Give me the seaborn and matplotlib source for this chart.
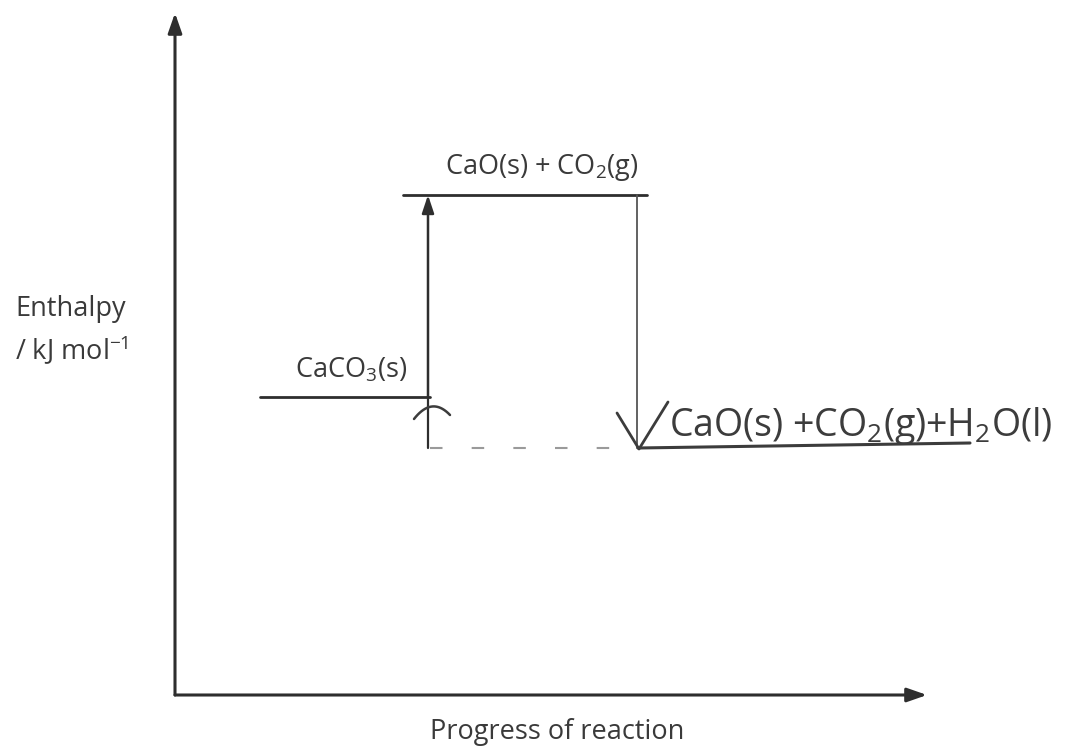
import matplotlib
matplotlib.use("Agg")
import matplotlib.pyplot as plt
import seaborn as sns
import pandas as pd
import numpy as np

# ---- data (progress units, enthalpy units, arbitrary) ----
level_names = ["CaCO$_3$(s)", "CaO(s) + CO$_2$(g)"]
level_x_start = [85, 228]
level_x_end = [255, 472]
level_enthalpy = [298, 500]

hand_x = [463, 795]
hand_enthalpy = [247, 252]
hand_label = "CaO(s) +CO$_2$(g)+H$_2$O(l)"

dash_x = [255, 465]
dash_enthalpy = [247, 247]

up_arrow_x = 253
down_arrow_x = 462

y_label = "Enthalpy\n/ kJ mol$^{-1}$"
x_label = "Progress of reaction"

sns.set_theme(style="white")
plt.rcParams['font.family'] = ['Open Sans', 'DejaVu Sans']
plt.rcParams['mathtext.fontset'] = 'custom'
plt.rcParams['mathtext.rm'] = 'Open Sans'

fig = plt.figure(figsize=(10.88, 7.47), dpi=100)
ax = fig.add_axes([0, 0, 1, 1])
ax.set_xlim(-175, 913)
ax.set_ylim(-52, 695)
ax.axis("off")

line_col = "#2e2e2e"
text_col = "#3a3a3a"
FS = 19.5

# axes arrows
ax.annotate("", xy=(0, 682), xytext=(0, 0),
            arrowprops=dict(arrowstyle="-|>,head_length=1.0,head_width=0.35",
                            color=line_col, lw=2.2, shrinkA=0, shrinkB=0))
ax.annotate("", xy=(752, 0), xytext=(0, 0),
            arrowprops=dict(arrowstyle="-|>,head_length=1.0,head_width=0.35",
                            color=line_col, lw=2.2, shrinkA=0, shrinkB=0))

# levels
rows = []
for i, (xs, xe, h) in enumerate(zip(level_x_start, level_x_end, level_enthalpy)):
    rows.append({"x": xs, "H": h, "lvl": i})
    rows.append({"x": xe, "H": h, "lvl": i})
df = pd.DataFrame(rows)
sns.lineplot(data=df, x="x", y="H", units="lvl", estimator=None, color=line_col,
             lw=2.0, ax=ax, legend=False)

# handwritten level
sns.lineplot(x=hand_x, y=hand_enthalpy, color="#3c3c3c", lw=2.2, ax=ax)
# dashed
ax.plot(dash_x, dash_enthalpy, color="#9a9a9a", lw=1.5, ls=(0, (6, 14)))

# level labels
ax.text(np.mean([level_x_start[0], level_x_end[0]]) + 6, level_enthalpy[0] + 12,
        level_names[0], ha="center", va="bottom", fontsize=FS, color=text_col)
ax.text(np.mean([level_x_start[1], level_x_end[1]]) + 17, level_enthalpy[1] + 12,
        level_names[1], ha="center", va="bottom", fontsize=FS, color=text_col)

# up arrow
ax.plot([up_arrow_x, up_arrow_x], [hand_enthalpy[0], level_enthalpy[0]], color=line_col, lw=1.6)
ax.annotate("", xy=(up_arrow_x, level_enthalpy[1]), xytext=(up_arrow_x, level_enthalpy[0]),
            arrowprops=dict(arrowstyle="-|>,head_length=0.9,head_width=0.3",
                            color=line_col, lw=1.8, shrinkA=0, shrinkB=0))
# handwritten up arrowhead (curved)
t = np.linspace(0, 1, 20)
ax.plot(up_arrow_x - 14 + 36 * t, level_enthalpy[0] - 22 + 40 * t * (1 - t) * 1.05 + 4 * t,
        color="#3c3c3c", lw=1.8)

# down arrow
ax.plot([down_arrow_x, down_arrow_x], [level_enthalpy[1], hand_enthalpy[0]], color="#555555", lw=1.3)
ax.plot([down_arrow_x - 20, down_arrow_x + 2, down_arrow_x + 31],
        [hand_enthalpy[0] + 35, hand_enthalpy[0] - 1, hand_enthalpy[0] + 46],
        color="#3c3c3c", lw=2.0)

ax.text(hand_x[0] + 31, hand_enthalpy[0] + 1, hand_label, ha="left", va="bottom",
        fontsize=27, color="#3c3c3c")

# axis labels
ax.text(-175 + 15, 364, y_label, ha="left", va="center", fontsize=FS, color=text_col,
        linespacing=1.4)
ax.text(382, -37, x_label, ha="center", va="center", fontsize=FS, color=text_col)

fig.savefig("out.png", dpi=100)
